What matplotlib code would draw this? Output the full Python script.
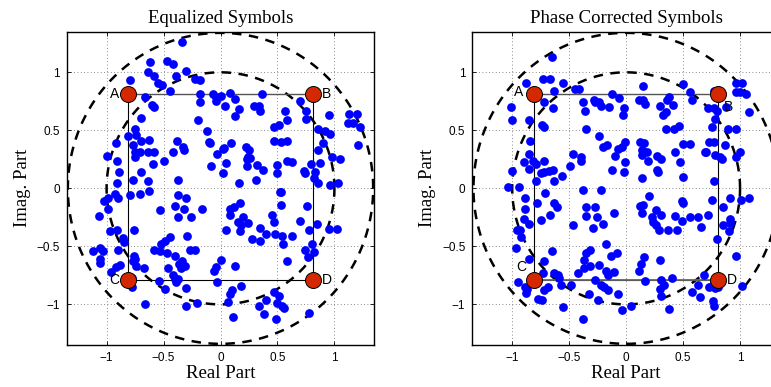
import numpy as np
import matplotlib
matplotlib.use("Agg")
import matplotlib.pyplot as plt

titles = ["Equalized Symbols", "Phase Corrected Symbols"]
xlabel = "Real Part"
ylabel = "Imag. Part"
ticks = [-1, -0.5, 0, 0.5, 1]
tick_labels = ["\u22121", "\u22120.5", "0", "0.5", "1"]

corner_names = ["A", "B", "C", "D"]
corner_re = [-0.81, 0.81, -0.81, 0.81]
corner_im = [0.81, 0.81, -0.79, -0.79]
inner_radius = 1.0
outer_radius = 1.34

eq_pts = [(-0.34,1.26),(-0.62,1.09),(-0.47,1.10),(-0.42,1.07),(-0.64,1.00),(-0.58,0.97),(-0.30,1.01),(-0.39,0.97),(-0.79,0.93),(-0.55,0.91),(-0.51,0.89),(-0.44,0.84),(-0.22,0.94),(-0.18,0.93),(-0.66,0.79),(-0.60,0.72),(-0.58,0.70),(-0.18,0.81),(-0.18,0.74),(-0.07,0.81),(-0.04,0.79),(-0.04,0.75),(0.00,0.80),(0.04,0.71),(0.08,0.82),(0.13,0.77),(0.16,0.68),(0.13,0.62),(0.29,0.71),(0.34,0.71),(0.35,0.67),(0.36,0.81),(-0.20,0.59),(-0.12,0.49),(-0.70,0.61),(-0.75,0.51),(-0.81,0.45),(-0.92,0.39),(-0.77,0.37),(-0.74,0.46),(-0.70,0.41),(-0.63,0.42),(-0.75,0.31),(-0.71,0.31),(-0.64,0.31),(-0.58,0.31),(-1.00,0.28),(-0.91,0.24),(-0.75,0.27),(-0.59,0.21),(-0.50,0.24),(-0.42,0.31),(-0.38,0.41),(-0.33,0.36),(-0.32,0.33),(-0.10,0.40),(-0.09,0.39),(-0.03,0.30),(0.02,0.34),(0.03,0.35),(0.09,0.39),(0.05,0.22),(-0.08,0.19),(0.02,0.13),(0.22,0.36),(0.25,0.33),(0.24,0.27),(0.23,0.25),(0.26,0.26),(0.23,0.19),(0.32,0.20),(0.37,0.16),(0.31,0.07),(0.16,0.05),(0.47,0.53),(0.51,0.55),(0.57,0.67),(0.58,0.59),(0.47,0.41),(0.53,0.40),(0.58,0.41),(0.58,0.24),(0.63,0.23),(0.50,0.20),(0.50,0.13),(0.53,-0.03),(0.70,0.75),(0.75,0.67),(0.75,0.60),(0.95,0.63),(0.86,0.51),(0.92,0.49),(0.96,0.47),(0.90,0.39),(0.86,0.33),(0.79,0.21),(0.87,0.22),(0.83,0.14),(0.98,0.27),(1.05,0.25),(0.73,0.15),(0.74,0.13),(0.82,0.09),(0.86,0.05),(0.96,0.03),(1.03,0.05),(1.13,0.64),(1.20,0.64),(1.12,0.56),(1.16,0.56),(1.22,0.53),(1.21,0.37),(-0.37,0.07),(-0.77,0.07),(-0.89,0.14),(-0.70,0.14),(-0.91,0.05),(-0.64,0.06),
(-1.02,-0.11),(-0.99,-0.08),(-0.93,-0.05),(-0.90,-0.08),(-0.99,-0.18),(-1.07,-0.24),(-0.79,-0.06),(-0.71,-0.05),(-0.63,-0.02),(-0.37,-0.06),(-0.30,-0.08),(-0.40,-0.15),(-0.32,-0.18),(-0.53,-0.19),(-0.37,-0.25),(-0.26,-0.25),(-0.16,-0.18),(0.08,-0.18),(0.12,-0.16),(0.17,-0.13),(0.08,-0.23),(0.20,-0.25),(0.15,-0.29),(0.18,-0.32),(0.24,-0.30),(0.17,-0.37),(0.05,-0.36),(0.28,-0.44),(0.35,-0.45),(0.35,-0.34),(0.40,-0.39),(0.45,-0.23),(0.47,-0.29),(0.48,-0.39),(0.54,-0.41),(0.55,-0.48),(0.63,-0.41),(0.70,-0.28),(0.76,-0.15),(0.78,-0.36),(0.85,-0.31),(0.95,-0.35),(1.02,-0.35),(0.80,-0.48),(0.74,-0.53),(0.77,-0.59),(0.82,-0.55),(0.58,-0.63),(0.52,-0.03),(0.53,-0.14),(-0.97,-0.37),(-0.91,-0.36),(-0.86,-0.43),(-0.85,-0.46),(-0.76,-0.36),(-1.12,-0.54),(-1.06,-0.51),(-1.03,-0.54),(-1.06,-0.61),(-1.06,-0.64),(-0.90,-0.53),(-0.96,-0.72),(-0.92,-0.68),(-0.88,-0.66),(-0.76,-0.58),(-0.75,-0.61),(-0.77,-0.63),(-0.74,-0.67),(-0.67,-0.69),(-0.78,-0.85),(-0.66,-1.00),(-0.58,-0.53),(-0.53,-0.54),(-0.52,-0.48),(-0.49,-0.45),(-0.44,-0.42),(-0.47,-0.56),(-0.40,-0.58),(-0.36,-0.65),(-0.34,-0.63),(-0.31,-0.67),(-0.35,-0.69),(-0.46,-0.69),(-0.42,-0.75),(-0.40,-0.78),(-0.37,-0.78),(-0.39,-0.81),(-0.29,-0.41),(-0.27,-0.53),(-0.22,-0.53),(-0.30,-0.86),(-0.54,-0.80),(-0.49,-0.87),(-0.30,-1.01),(-0.21,-0.99),(-0.04,-0.68),(0.00,-0.62),(-0.06,-0.71),(-0.03,-0.81),(0.13,-0.67),(0.18,-0.84),(0.10,-0.88),(0.08,-0.91),(0.07,-0.98),(0.11,-1.11),(0.34,-1.01),(0.40,-0.96),(0.38,-1.08),(0.47,-0.89),(0.51,-0.93),(0.50,-0.99),(0.54,-1.01),(0.56,-1.03),(0.49,-1.13),(0.78,-1.07),(-0.78,-0.77)]

pc_pts = [(-0.65,1.13),(-0.88,0.91),(-0.73,0.94),(-0.67,0.94),(-0.63,0.84),(-0.55,0.91),(-0.45,0.86),(-0.41,0.86),(-1.01,0.70),(-1.00,0.59),(-0.72,0.74),(-0.64,0.69),(-0.85,0.59),(-0.74,0.55),(-0.72,0.53),(-0.84,0.41),(-0.85,0.30),(-0.82,0.24),(-0.90,0.23),(-0.85,0.17),(-0.79,0.21),(-0.72,0.24),(-0.79,0.06),(-0.75,0.13),(-0.72,0.14),(-0.68,0.15),(-0.64,0.16),(-0.63,0.06),(-0.56,0.11),(-0.49,0.19),(-0.47,0.30),(-0.40,0.27),(-0.40,0.24),(-1.00,0.15),(-1.04,0.01),(-0.94,0.01),(-0.38,0.74),(-0.36,0.67),(-0.35,0.51),(-0.28,0.76),(-0.27,0.74),(-0.24,0.74),(-0.22,0.71),(-0.15,0.70),(-0.12,0.81),(-0.06,0.78),(-0.03,0.63),(-0.02,0.69),(-0.24,0.45),(-0.20,0.36),(-0.17,0.37),(-0.10,0.28),(-0.07,0.34),(-0.04,0.36),(-0.01,0.40),(-0.01,0.23),(-0.12,0.16),(-0.02,0.14),(-0.38,-0.01),(-0.22,-0.01),(0.15,0.88),(0.11,0.76),(0.15,0.76),(0.17,0.73),(0.12,0.40),(0.16,0.39),(0.14,0.33),(0.18,0.31),(0.14,0.29),(0.19,0.24),(0.14,0.09),(0.27,0.28),(0.31,0.25),(0.27,0.16),(0.28,0.14),(0.30,0.71),(0.36,0.76),(0.32,0.63),(0.35,0.66),(0.41,0.72),(0.38,0.79),(0.35,0.51),(0.42,0.51),(0.46,0.54),(0.43,0.31),(0.47,0.23),(0.50,0.38),(0.56,0.38),(0.50,0.10),(0.50,0.90),(0.56,0.83),(0.58,0.76),(0.72,0.69),(0.77,0.69),(0.80,0.67),(0.78,0.60),(0.75,0.53),(0.89,0.51),(0.96,0.51),(0.69,0.31),(0.70,0.31),(0.73,0.40),(0.77,0.40),(0.78,0.29),(0.82,0.27),(0.84,0.25),(0.87,0.37),(0.96,0.27),(1.00,0.31),(0.77,0.06),(0.96,0.91),(1.02,0.91),(0.96,0.83),(1.00,0.83),(1.05,0.81),(1.08,0.66),(0.88,0.70),(0.77,0.84),
(-0.89,-0.08),(-0.89,-0.18),(-0.90,-0.26),(-0.96,-0.36),(-0.93,-0.36),(-0.92,-0.42),(-0.85,-0.31),(-0.97,-0.51),(-0.78,-0.13),(-0.71,-0.04),(-0.75,-0.27),(-0.67,-0.23),(-0.63,-0.13),(-0.61,-0.16),(-0.47,-0.32),(-0.35,-0.16),(-0.27,-0.16),(-0.35,-0.24),(-0.26,-0.25),(-0.29,-0.34),(-0.20,-0.31),(-0.11,-0.21),(0.20,-0.07),(0.12,-0.15),(0.15,-0.14),(0.14,-0.21),(0.23,-0.25),(0.24,-0.29),(0.26,-0.32),(0.26,-0.19),(0.31,-0.23),(0.29,-0.36),(0.37,-0.36),(0.43,-0.24),(0.45,-0.36),(0.49,-0.11),(0.50,-0.13),(0.49,-0.28),(0.56,-0.25),(0.63,-0.25),(0.66,-0.33),(0.72,-0.23),(0.75,-0.10),(0.85,-0.16),(0.91,-0.08),(1.01,-0.10),(1.08,-0.08),(0.85,-0.32),(0.91,-0.26),(0.91,-0.30),(0.90,-0.37),(0.80,-0.44),(0.96,-0.58),(-0.65,-0.54),(-0.72,-0.63),(-0.85,-0.61),(-0.95,-0.81),(-0.89,-0.85),(-0.87,-0.87),(-0.88,-0.90),(-0.77,-0.95),(-0.74,-0.96),(-0.72,-0.88),(-0.69,-0.85),(-0.73,-0.73),(-0.63,-0.73),(-0.60,-0.75),(-0.57,-0.83),(-0.59,-0.77),(-0.48,-0.83),(-0.55,-1.02),(-0.38,-1.13),(-0.42,-0.73),(-0.37,-0.69),(-0.37,-0.62),(-0.35,-0.56),(-0.32,-0.53),(-0.32,-0.67),(-0.24,-0.66),(-0.27,-0.79),(-0.33,-0.91),(-0.25,-0.96),(-0.22,-0.83),(-0.19,-0.85),(-0.16,-0.88),(-0.18,-0.48),(-0.18,-0.71),(-0.16,-0.75),(-0.11,-0.72),(-0.13,-0.58),(-0.08,-0.56),(-0.07,-0.91),(-0.04,-1.05),(0.04,-1.01),(0.11,-0.71),(0.13,-0.65),(0.16,-0.59),(0.17,-0.80),(0.30,-0.62),(0.31,-0.79),(0.30,-0.87),(0.33,-0.83),(0.31,-0.93),(0.40,-0.77),(0.38,-1.04),(0.58,-0.89),(0.63,-0.83),(0.65,-0.94),(0.68,-0.75),(0.76,-0.97),(0.77,-1.01),(0.73,-0.85),(0.76,-0.83),(0.78,-0.86),(0.81,-0.85),(1.02,-0.84)]

eq_re = [p[0] for p in eq_pts]
eq_im = [p[1] for p in eq_pts]
pc_re = [p[0] for p in pc_pts]
pc_im = [p[1] for p in pc_pts]

# label offsets (data units) for corner letters
label_dx = [[-0.12, 0.12, -0.12, 0.12], [-0.13, 0.09, -0.11, 0.12]]
label_dy = [[0.0, 0.0, 0.0, 0.0], [0.02, -0.11, 0.11, 0.0]]

serif = "Liberation Serif"
sans = "Liberation Sans"

fig = plt.figure(figsize=(7.71, 3.87), dpi=100)
ax_w = 0.399
ax_h = 0.8096
axes = [fig.add_axes([0.0865, 0.1085, ax_w, ax_h]),
        fig.add_axes([0.6126, 0.1085, ax_w, ax_h])]

th = np.linspace(0, 2 * np.pi, 400)
data = [(eq_re, eq_im), (pc_re, pc_im)]
for k, ax in enumerate(axes):
    re, im = data[k]
    ax.set_xlim(-1.35, 1.35)
    ax.set_ylim(-1.35, 1.35)
    ax.set_xticks(ticks)
    ax.set_yticks(ticks)
    ax.set_xticklabels(tick_labels, fontfamily=sans, fontsize=8.5)
    ax.set_yticklabels(tick_labels, fontfamily=sans, fontsize=8.5)
    ax.tick_params(direction="in", length=3, width=0.6, top=True, right=True, pad=5)
    ax.grid(True, linestyle=(0, (1, 3)), color="#666666", linewidth=0.6)
    for s in ax.spines.values():
        s.set_linewidth(1.0)
    ax.plot(inner_radius * np.cos(th), inner_radius * np.sin(th), color="black",
            linestyle=(0, (3.8, 3)), linewidth=1.8, zorder=2)
    ax.plot(outer_radius * np.cos(th), outer_radius * np.sin(th), color="black",
            linestyle=(0, (3.8, 3)), linewidth=1.8, zorder=2)
    # square A-B-D-C-A
    sq = [0, 1, 3, 2, 0]
    ax.plot([corner_re[i] for i in sq], [corner_im[i] for i in sq], color="black",
            linewidth=0.8, zorder=2)
    ax.plot([corner_re[0], corner_re[1]], [corner_im[0], corner_im[1]], color="#555555", linewidth=0.9, zorder=2)
    if k == 1:
        ax.plot([corner_re[2], corner_re[3]], [corner_im[2], corner_im[3]], color="#666666", linewidth=1.3, zorder=2)
    ax.plot(re, im, linestyle="none", marker="o", markersize=6.3, color="#0000ff",
            markeredgewidth=0, zorder=3)
    ax.plot(corner_re, corner_im, linestyle="none", marker="o", markersize=11.5,
            markerfacecolor="#d42800", markeredgecolor="black", markeredgewidth=0.7, zorder=4)
    for i, nm in enumerate(corner_names):
        ax.text(corner_re[i] + label_dx[k][i], corner_im[i] + label_dy[k][i], nm,
                ha="center", va="center", fontfamily=sans, fontsize=10, zorder=5)
    ax.set_title(titles[k], fontfamily=serif, fontsize=13.5, pad=6)
    ax.set_xlabel(xlabel, fontfamily=serif, fontsize=13.5, labelpad=1)
    ax.set_ylabel(ylabel, fontfamily=serif, fontsize=13.5, labelpad=4)

fig.savefig("out.png", dpi=100)
